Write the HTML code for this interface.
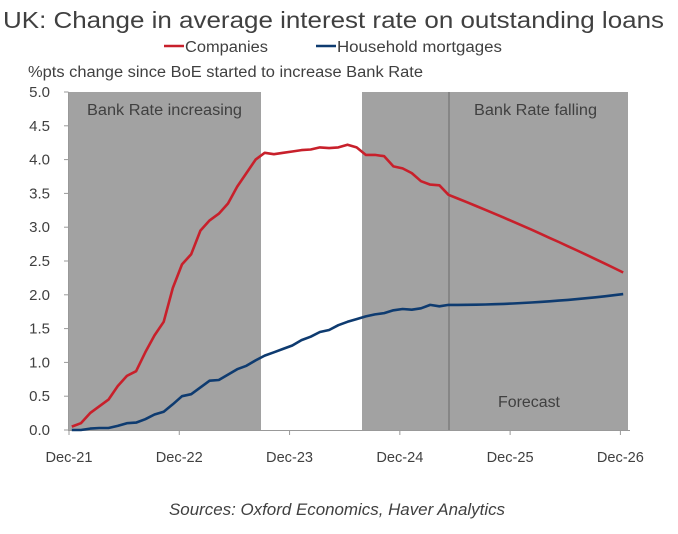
<!DOCTYPE html>
<html><head><meta charset="utf-8"><style>
body{margin:0;background:#fff;}
svg text{font-family:"Liberation Sans",sans-serif;fill:#404040;}
</style></head><body>
<svg id="s" width="678" height="529" xmlns="http://www.w3.org/2000/svg">
<text x="3" y="28" font-size="23" textLength="661" lengthAdjust="spacingAndGlyphs" fill="#404040">UK: Change in average interest rate on outstanding loans</text>
<line x1="164" y1="46" x2="184" y2="46" stroke="#c8202b" stroke-width="2.5"/>
<text x="185" y="52" font-size="15.5" textLength="83" lengthAdjust="spacingAndGlyphs">Companies</text>
<line x1="316" y1="46" x2="336" y2="46" stroke="#0e3b70" stroke-width="2.5"/>
<text x="337" y="52" font-size="15.5" textLength="165" lengthAdjust="spacingAndGlyphs">Household mortgages</text>
<text x="28" y="77" font-size="15.5" textLength="395" lengthAdjust="spacingAndGlyphs">%pts change since BoE started to increase Bank Rate</text>
<rect x="68.5" y="92" width="192.5" height="338" fill="#a2a2a2"/>
<rect x="362" y="92" width="266" height="338" fill="#a2a2a2"/>
<line x1="449" y1="92" x2="449" y2="430" stroke="#6a6a6a" stroke-width="1"/>
<text x="87" y="115" font-size="15.5" textLength="155" lengthAdjust="spacingAndGlyphs" fill="#404040">Bank Rate increasing</text>
<text x="474" y="115" font-size="15.5" textLength="123" lengthAdjust="spacingAndGlyphs">Bank Rate falling</text>
<text x="498" y="407" font-size="15.5" textLength="62" lengthAdjust="spacingAndGlyphs">Forecast</text>
<g id="ax" stroke="#999" stroke-width="1"></g>
<g id="lab" font-size="15"></g>
<polyline id="hh" fill="none" stroke="#0e3b70" stroke-width="2.6" stroke-linejoin="round"/>
<polyline id="co" fill="none" stroke="#c8202b" stroke-width="2.6" stroke-linejoin="round"/>
<text x="169" y="515" font-size="16.5" font-style="italic" textLength="336" lengthAdjust="spacingAndGlyphs" fill="#555">Sources: Oxford Economics, Haver Analytics</text>
</svg>
<script>
var X0=69,PM=9.19,Y0=430,PU=67.6,ns="http://www.w3.org/2000/svg";
function el(t,a,p,txt){var e=document.createElementNS(ns,t);for(var k in a)e.setAttribute(k,a[k]);if(txt)e.textContent=txt;document.getElementById(p).appendChild(e);}
el("line",{x1:68.5,y1:92,x2:68.5,y2:431},"ax");
el("line",{x1:68,y1:430.5,x2:630,y2:430.5},"ax");
for(var i=0;i<=10;i++){var y=Y0-i*0.5*PU;el("line",{x1:64,y1:y,x2:68.5,y2:y},"ax");
el("text",{x:50,y:y+5,"text-anchor":"end"},"lab",(i/2).toFixed(1));}
var yrs=["Dec-21","Dec-22","Dec-23","Dec-24","Dec-25","Dec-26"];
for(var j=0;j<6;j++){var x=X0+j*12*PM;el("line",{x1:x,y1:430,x2:x,y2:435},"ax");
el("text",{x:x,y:462,"text-anchor":"middle",textLength:47,lengthAdjust:"spacingAndGlyphs"},"lab",yrs[j]);}
var co=[0.05,0.1,0.25,0.35,0.45,0.65,0.8,0.87,1.15,1.4,1.6,2.1,2.45,2.6,2.95,3.1,3.2,3.35,3.6,3.8,4.0,4.1,4.08,4.1,4.12,4.14,4.15,4.18,4.17,4.18,4.22,4.18,4.07,4.07,4.05,3.9,3.87,3.8,3.68,3.63,3.62,3.48];
for(var m=42;m<=60;m++){var t=(m-41)/19;co.push(3.48-(3.48-2.33)*(t*0.9+0.1*t*t));}
var hh=[0,0,0.02,0.03,0.03,0.06,0.1,0.11,0.16,0.23,0.27,0.38,0.5,0.53,0.63,0.73,0.74,0.82,0.9,0.95,1.03,1.1,1.15,1.2,1.25,1.33,1.38,1.45,1.48,1.55,1.6,1.64,1.68,1.71,1.73,1.77,1.79,1.78,1.8,1.85,1.83,1.85];
for(var m=42;m<=60;m++){var t=(m-41)/19;hh.push(1.85+0.16*t*t);}
function pts(a,s){return a.map(function(v,i){return (X0+(i+s)*PM).toFixed(1)+","+(Y0-v*PU).toFixed(1)}).join(" ");}
document.getElementById("co").setAttribute("points",pts(co,0.3));
document.getElementById("hh").setAttribute("points",pts(hh,0.3));
</script>
</body></html>
